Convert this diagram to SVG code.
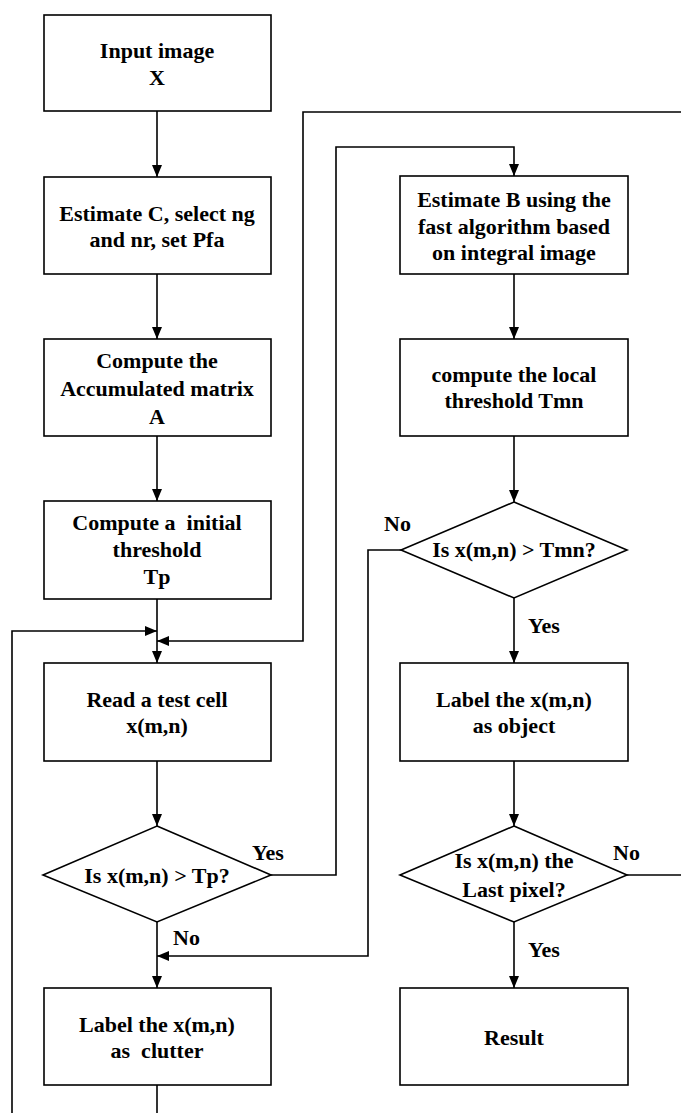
<svg xmlns="http://www.w3.org/2000/svg" width="681" height="1113" viewBox="0 0 681 1113">
<style>
.n{fill:#fff;stroke:#000;stroke-width:1.6}
.t{font-family:"Liberation Serif","Times New Roman",serif;font-weight:bold;font-size:22px;fill:#000;text-anchor:middle;white-space:pre}
.l{font-family:"Liberation Serif","Times New Roman",serif;font-weight:bold;font-size:22px;fill:#000}
.c{fill:none;stroke:#000;stroke-width:1.6}
</style>
<defs>
<marker id="ah" markerUnits="userSpaceOnUse" markerWidth="12" markerHeight="10" refX="12" refY="5" orient="auto">
<path d="M0,0 L12,5 L0,10 z" fill="#000"/>
</marker>
</defs>
<rect width="681" height="1113" fill="#fff"/>
<g id="connectors">
<path class="c" d="M157,111 V177" marker-end="url(#ah)"/>
<path class="c" d="M157,274 V339" marker-end="url(#ah)"/>
<path class="c" d="M157,436 V501" marker-end="url(#ah)"/>
<path class="c" d="M157,599 V663" marker-end="url(#ah)"/>
<path class="c" d="M157,761 V826" marker-end="url(#ah)"/>
<path class="c" d="M157,922 V988" marker-end="url(#ah)"/>
<path class="c" d="M271,875 H336 V147 H514 V176" marker-end="url(#ah)"/>
<path class="c" d="M514,274 V339" marker-end="url(#ah)"/>
<path class="c" d="M514,436 V502" marker-end="url(#ah)"/>
<path class="c" d="M514,598 V663" marker-end="url(#ah)"/>
<path class="c" d="M401,550 H368 V956 H157" marker-end="url(#ah)"/>
<path class="c" d="M514,761 V826" marker-end="url(#ah)"/>
<path class="c" d="M514,922 V988" marker-end="url(#ah)"/>
<path class="c" d="M627,875 H681"/>
<path class="c" d="M681,112 H303 V641 H157" marker-end="url(#ah)"/>
<path class="c" d="M157,1085 V1113"/>
<path class="c" d="M12,1113 V631 H157" marker-end="url(#ah)"/>
<text class="l" x="252" y="860">Yes</text>
<text class="l" x="173" y="945">No</text>
<text class="l" x="384" y="531">No</text>
<text class="l" x="528" y="633">Yes</text>
<text class="l" x="613" y="860">No</text>
<text class="l" x="528" y="957">Yes</text>
</g>
<g id="input">
<rect class="n" x="44" y="15" width="227" height="96"/>
<text class="t" x="157" y="58">Input image</text>
<text class="t" x="157" y="85">X</text>
</g>
<g id="estimateC">
<rect class="n" x="44" y="177" width="227" height="97"/>
<text class="t" x="157" y="221">Estimate C, select ng</text>
<text class="t" x="157" y="247">and nr, set Pfa</text>
</g>
<g id="accum">
<rect class="n" x="44" y="339" width="227" height="97"/>
<text class="t" x="157" y="368">Compute the</text>
<text class="t" x="157" y="396">Accumulated matrix</text>
<text class="t" x="157" y="424">A</text>
</g>
<g id="initial">
<rect class="n" x="44" y="501" width="227" height="98"/>
<text class="t" x="157" y="530" xml:space="preserve">Compute a  initial</text>
<text class="t" x="157" y="557">threshold</text>
<text class="t" x="157" y="584">Tp</text>
</g>
<g id="read">
<rect class="n" x="44" y="663" width="227" height="98"/>
<text class="t" x="157" y="707">Read a test cell</text>
<text class="t" x="157" y="733">x(m,n)</text>
</g>
<g id="d1">
<polygon class="n" points="157,826 271,875 157,922 43,875"/>
<text class="t" x="157" y="883">Is x(m,n) &gt; Tp?</text>
</g>
<g id="clutter">
<rect class="n" x="44" y="988" width="227" height="97"/>
<text class="t" x="157" y="1032">Label the x(m,n)</text>
<text class="t" x="157" y="1058" xml:space="preserve">as  clutter</text>
</g>
<g id="estimateB">
<rect class="n" x="400" y="176" width="228" height="98"/>
<text class="t" x="514" y="207">Estimate B using the</text>
<text class="t" x="514" y="234">fast algorithm based</text>
<text class="t" x="514" y="260">on integral image</text>
</g>
<g id="local">
<rect class="n" x="400" y="339" width="228" height="97"/>
<text class="t" x="514" y="382">compute the local</text>
<text class="t" x="514" y="408">threshold Tmn</text>
</g>
<g id="d2">
<polygon class="n" points="514,502 627,550 514,598 401,550"/>
<text class="t" x="514" y="557">Is x(m,n) &gt; Tmn?</text>
</g>
<g id="object">
<rect class="n" x="400" y="663" width="228" height="98"/>
<text class="t" x="514" y="707">Label the x(m,n)</text>
<text class="t" x="514" y="733">as object</text>
</g>
<g id="d3">
<polygon class="n" points="514,826 627,875 514,922 400,875"/>
<text class="t" x="514" y="868">Is x(m,n) the</text>
<text class="t" x="514" y="897">Last pixel?</text>
</g>
<g id="result">
<rect class="n" x="400" y="988" width="228" height="97"/>
<text class="t" x="514" y="1045">Result</text>
</g>
</svg>
